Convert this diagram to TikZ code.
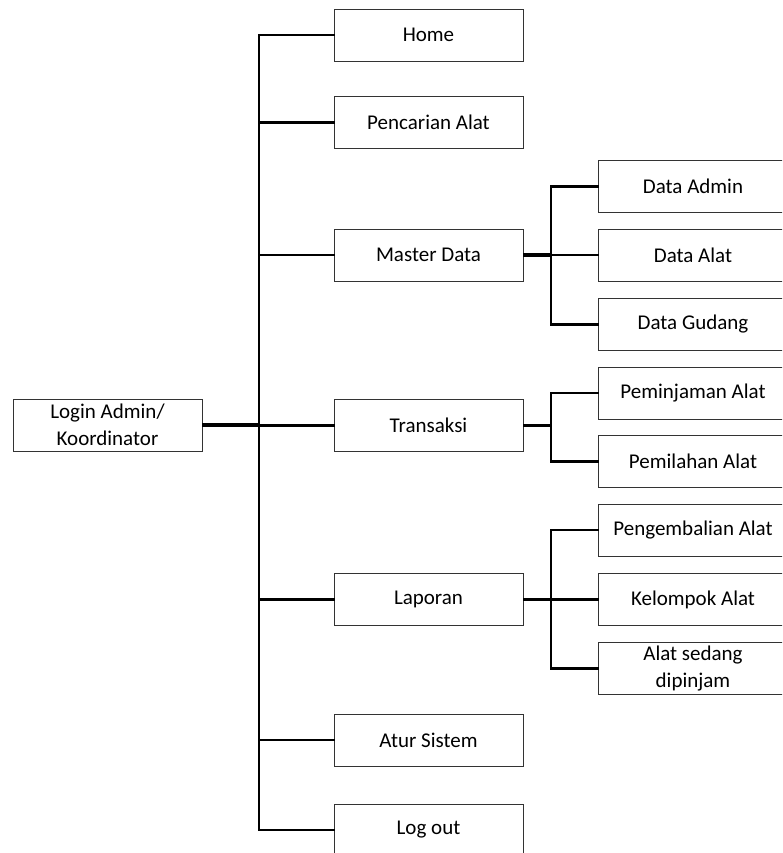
\documentclass[tikz,border=0pt]{standalone}
\usepackage{fontspec}
\setmainfont{Carlito}
\begin{document}
\begin{tikzpicture}[x=1pt,y=-1pt,
  menubox/.style={draw=black!80, line width=0.9pt, minimum width=189pt, minimum height=52pt,
    inner sep=0pt, align=center, font=\fontsize{21}{26.5}\selectfont},
  subbox/.style={menubox, minimum width=190pt},
  link/.style={line width=2.2pt, line cap=rect},
  feed/.style={line width=3.4pt}]
\useasboundingbox[clip] (0,0) rectangle (782,853);

% root
\node[menubox] (login) at (107.5,425) {Login Admin/\\Koordinator};

% first level menu
\node[menubox] (home)    at (428.5,35)    {Home};
\node[menubox] (cari)    at (428.5,122.5) {Pencarian Alat};
\node[menubox] (master)  at (428.5,255)   {Master Data};
\node[menubox] (trans)   at (428.5,425.5) {Transaksi};
\node[menubox] (lapor)   at (428.5,599.5) {Laporan};
\node[menubox] (atur)    at (428.5,740)   {Atur Sistem};
\node[menubox] (logout)  at (428.5,830)   {Log out};

% second level menu
\node[subbox] (dadmin)  at (693,186.5) {Data Admin};
\node[subbox] (dalat)   at (693,255)   {Data Alat};
\node[subbox] (dgudang) at (693,324.5) {Data Gudang};
\node[subbox] (pinjam)  at (693,393)   {Peminjaman Alat};
\node[subbox] (pilah)   at (693,461.5) {Pemilahan Alat};
\node[subbox] (kembali) at (693,530)   {Pengembalian Alat};
\node[subbox] (kelompok) at (693,599.5) {Kelompok Alat};
\node[subbox] (sedang)  at (693,668.5) {Alat sedang\\dipinjam};

% trunk
\coordinate (trunk) at (259,0);
\draw[link] (home.west) -- (home.west -| trunk) -- (logout.west -| trunk) -- (logout.west);
\foreach \n in {cari,master,trans,lapor,atur}
  \draw[link] (\n.west) -- (\n.west -| trunk);
\draw[feed] (login.east) -- (login.east -| trunk);

% sub branches
\coordinate (sub) at (551,0);
\draw[link] (dadmin.west) -- (dadmin.west -| sub) -- (dgudang.west -| sub) -- (dgudang.west);
\draw[link] (dalat.west) -- (dalat.west -| sub);
\draw[feed] (master.east) -- (master.east -| sub);

\draw[link] (pinjam.west) -- (pinjam.west -| sub) -- (pilah.west -| sub) -- (pilah.west);
\draw[feed] (trans.east) -- (trans.east -| sub);

\draw[link] (kembali.west) -- (kembali.west -| sub) -- (sedang.west -| sub) -- (sedang.west);
\draw[link] (kelompok.west) -- (kelompok.west -| sub);
\draw[feed] (lapor.east) -- (lapor.east -| sub);
\end{tikzpicture}
\end{document}
